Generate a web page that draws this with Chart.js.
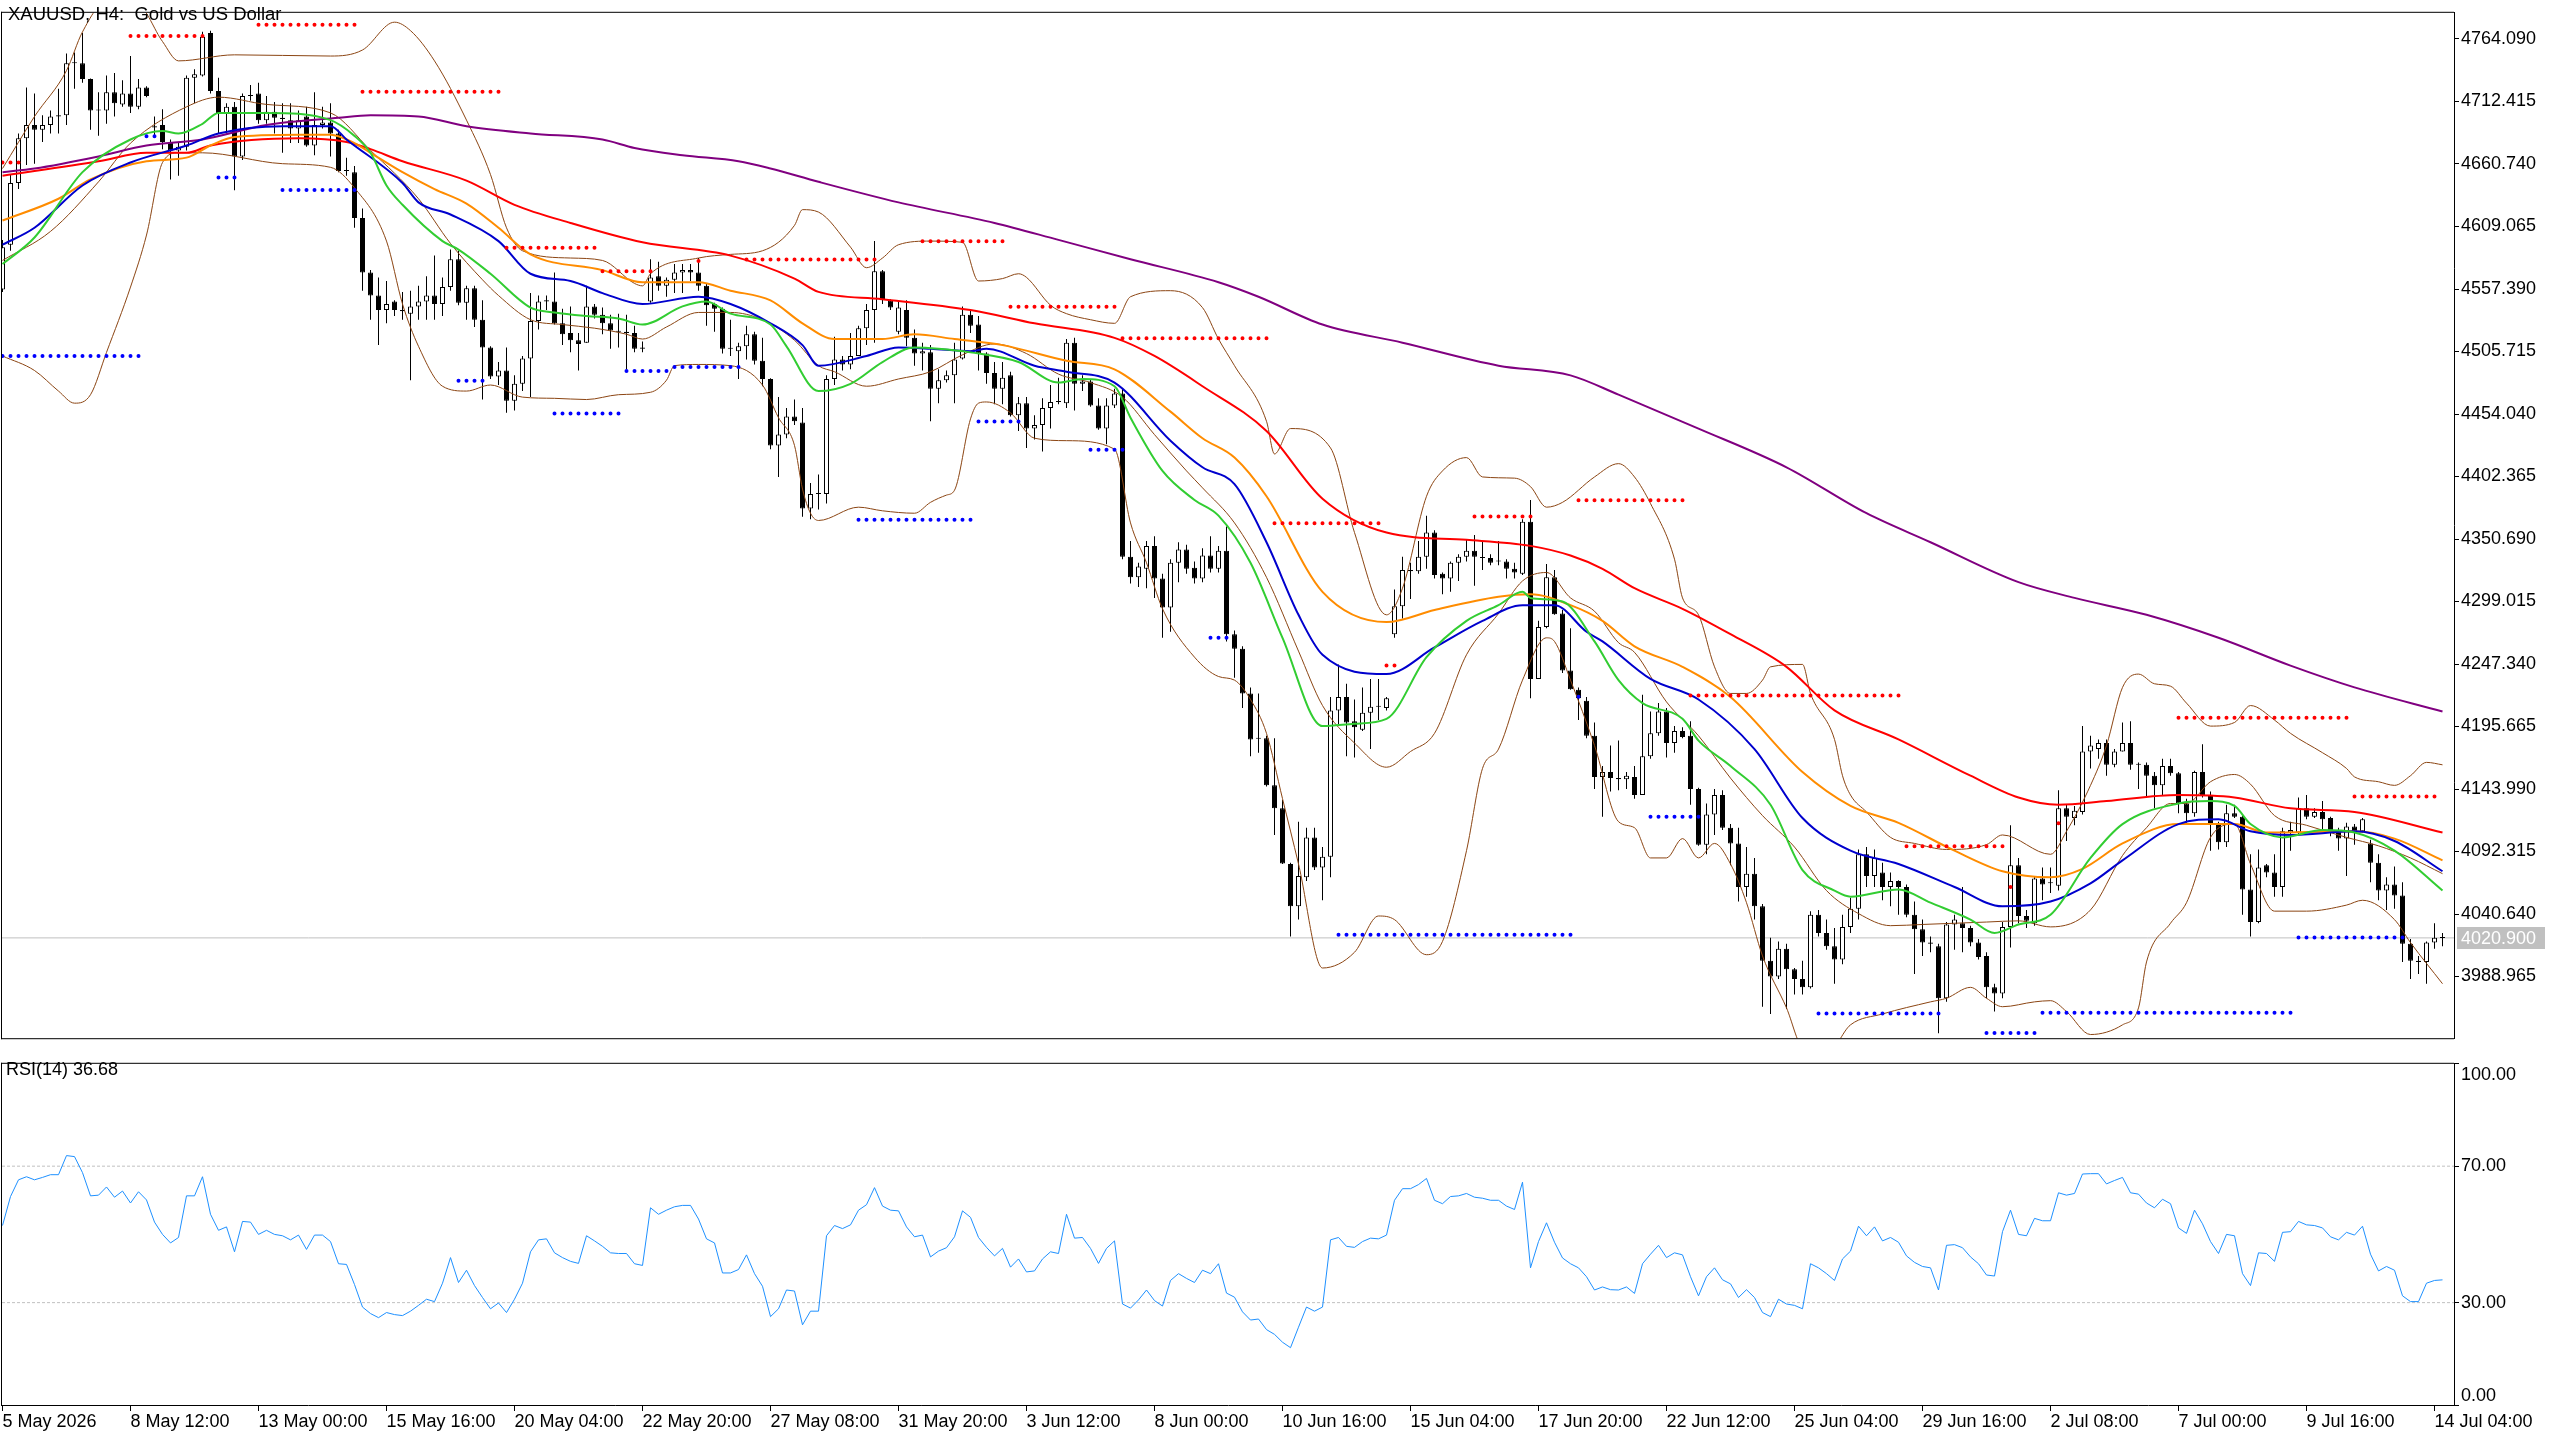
<!DOCTYPE html>
<html><head><meta charset="utf-8">
<script src="https://cdn.jsdelivr.net/npm/chart.js@4.4.1/dist/chart.umd.min.js"></script>
<style>
html,body{margin:0;padding:0;background:#fff;width:2560px;height:1440px;overflow:hidden;}
#main{position:absolute;left:0;top:0;}
#rsi{position:absolute;left:0;top:1051px;}
.lbl{position:absolute;font-family:'Liberation Sans',Arial,sans-serif;font-size:18px;color:#000;white-space:pre;line-height:20px;}
</style></head><body>
<canvas id="main" width="2560" height="1051"></canvas>
<canvas id="rsi" width="2560" height="389"></canvas>
<div class="lbl" style="left:8px;top:4px;font-size:18.5px">XAUUSD, H4:  Gold vs US Dollar</div>
<div class="lbl" style="left:6px;top:1059px">RSI(14) 36.68</div>
<script>
// ---------------- DATA ----------------
const xTickIdx = [0,16,32,48,64,80,96,112,128,144,160,176,192,208,224,240,256,272,288,304];
const xTickLabels = ["5 May 2026","8 May 12:00","13 May 00:00","15 May 16:00","20 May 04:00","22 May 20:00","27 May 08:00","31 May 20:00","3 Jun 12:00","8 Jun 00:00","10 Jun 16:00","15 Jun 04:00","17 Jun 20:00","22 Jun 12:00","25 Jun 04:00","29 Jun 16:00","2 Jul 08:00","7 Jul 00:00","9 Jul 16:00","14 Jul 04:00"];
const priceTickLabels = ["3988.965","4040.640","4092.315","4143.990","4195.665","4247.340","4299.015","4350.690","4402.365","4454.040","4505.715","4557.390","4609.065","4660.740","4712.415","4764.090"];
const rsiTickVals = [0,30,70,100];
const rsiTickLabels = ["0.00","30.00","70.00","100.00"];
const rsiLevels = [70,30];

const candleOpen = [
4557,4594,4645,4682,4693,4689,4693,4700,4701,4744,
4744,4731,4705,4705,4720,4710,4719,4708,4724,4692,
4693,4679,4672,4675,4732,4734,4769,4721,4703,4708,
4667,4717,4719,4697,4704,4699,4697,4690,4700,4676,
4693,4695,4686,4655,4654,4616,4571,4552,4540,4547,
4540,4537,4543,4547,4552,4545,4559,4582,4546,4558,
4532,4509,4485,4490,4465,4479,4500,4531,4547,4547,
4529,4521,4515,4513,4543,4536,4529,4522,4522,4521,
4508,4547,4568,4560,4565,4571,4573,4571,4560,4545,
4541,4508,4506,4510,4520,4498,4483,4428,4437,4452,
4447,4376,4388,4388,4483,4499,4495,4502,4525,4540,
4572,4548,4522,4540,4517,4504,4505,4475,4482,4486,
4500,4536,4528,4504,4488,4475,4486,4453,4463,4442,
4445,4459,4464,4463,4513,4479,4481,4461,4442,4461,
4471,4336,4319,4326,4345,4318,4294,4331,4342,4327,
4318,4337,4326,4341,4272,4260,4223,4186,4186,4147,
4128,4082,4047,4071,4104,4079,4088,4209,4220,4200,
4193,4207,4212,4211,4272,4295,4325,4324,4336,4356,
4322,4318,4331,4336,4341,4335,4335,4332,4332,4326,
4322,4365,4235,4278,4319,4289,4242,4226,4217,4188,
4154,4158,4153,4152,4154,4139,4171,4190,4208,4182,
4192,4188,4144,4098,4123,4139,4112,4099,4063,4074,
4047,4002,3989,4012,3995,3987,3980,4040,4025,4014,
4003,4030,4045,4090,4072,4075,4063,4068,4063,4040,
4028,4017,4014,3971,4032,4033,4029,4017,4006,3980,
3975,4030,4081,4039,4033,4070,4066,4064,4128,4120,
4125,4175,4177,4182,4164,4175,4182,4164,4164,4155,
4147,4163,4157,4132,4124,4158,4139,4115,4100,4124,
4121,4061,4034,4081,4075,4063,4108,4108,4128,4121,
4125,4120,4109,4103,4113,4109,4099,4083,4060,4065,
4056,4016,4002,4001,4017,4021];
const candleHigh = [
4598,4652,4686,4724,4719,4701,4705,4723,4752,4753,
4769,4731.5,4720,4734,4736,4730,4750,4731,4725,4700,
4706,4681,4678,4734,4739,4770,4771,4732,4711,4712,
4719,4726,4728,4717,4712,4711,4711,4705,4708,4720,
4708,4711,4689,4666,4659,4624,4573,4567,4564,4548,
4555,4556,4560,4568,4585,4567,4590,4589,4560,4560,
4548,4510,4497,4509,4486,4502,4554,4552,4552,4571,
4541,4543,4521,4560,4545,4542,4536,4537,4536,4527,
4514,4582,4580,4567,4578,4578,4578,4583,4562,4546,
4542,4532,4513,4527,4522,4517,4483.5,4468,4459,4466,
4459,4397,4404,4486,4518,4502,4521,4527,4545,4597,
4573,4549,4548,4548,4524,4513,4511,4491,4490,4513,
4543,4540,4535,4505,4497,4497,4489,4468,4468,4453,
4467,4478,4484,4516,4517,4486,4483,4467,4467,4475,
4475,4349,4331,4349,4353,4322,4334,4348,4346,4332,
4343,4353,4345,4361,4275,4262,4228,4223,4188,4186,
4135,4083,4117,4112,4112,4096,4220,4247,4231,4218,
4228,4235,4235,4220,4309,4336,4331,4349,4370,4358,
4323,4332,4338,4350,4354,4349,4338,4349,4334,4331,
4367,4383,4283,4330,4325,4292,4277,4228,4220,4199,
4163,4180,4184,4158,4163,4222,4208,4215,4211,4196,
4195,4200,4145,4132,4144,4143,4115,4112,4096,4087,
4049,4021,4018,4016,3996,4002,4043,4044,4036,4029,
4040,4054,4094,4096,4094,4083,4075,4068.5,4065,4051,
4036,4022,4016,4034,4040,4063,4031,4020,4009,3983,
4034,4114,4087,4044,4072,4079,4079,4143,4131,4130,
4196,4188,4185,4185,4177,4199,4200,4166,4166,4158,
4169,4169,4158,4136,4159,4181,4142,4117,4131,4131,
4123,4090,4094,4082,4090,4112,4117,4137,4139,4128,
4134,4121,4112,4116,4115,4120,4102,4090,4071,4080,
4067,4020,4006,4018,4033,4025];
const candleLow = [
4555,4589,4640,4660,4661,4679,4686,4686,4693,4723,
4728,4689,4684,4694,4700,4708,4703,4706,4716,4684,
4673,4648,4651,4672,4711,4733,4719,4686,4686,4639,
4664,4713,4694,4694,4686,4670,4678,4678,4675,4668,
4690,4667,4654,4651,4608,4556,4532,4511,4529,4535,
4532,4482,4532,4532,4532,4535,4556,4544,4532,4526,
4466,4483,4478,4455,4457,4473,4468,4524,4540,4528,
4511,4505,4490,4513,4533,4520,4508,4509,4491,4505,
4505,4546,4556,4551,4554,4554,4564,4556,4527,4522,
4504,4502,4483,4499,4495,4477,4425,4402,4434,4445,
4369,4367,4375,4380,4478,4490,4491,4502,4511,4513,
4545,4540,4520,4510,4494,4490,4448,4463,4480,4463,
4499,4521,4490,4479,4462,4462,4452,4440,4426,4433,
4423,4442,4462,4459,4457,4473,4460,4441,4429,4459,
4334,4314,4311,4310,4302,4269,4274,4315,4322,4314,
4315,4323,4323,4266,4236,4211,4171,4174,4146,4106,
4082,4022,4036,4068,4077,4052,4071,4196,4171,4170,
4192,4177,4201,4209,4269,4285,4301,4322,4326,4318,
4305,4307,4316,4332,4312,4325,4329,4329,4318,4318,
4321,4219,4235,4277,4288,4240,4226,4201,4186,4144,
4121,4142,4143,4144,4136,4139,4169,4188,4170,4174,
4186,4131,4097,4090,4106,4110,4081,4051,4055,4036,
3964,3958,3987,3962,3974,3974,3979,4022,4011,3983,
3999,4025,4036,4063,4063,4052,4047,4040,4038,3991,
4006,4009,3942,3968,4011,4009,4014,4003,3971,3960,
3971,4013,4033,4029,4031,4052,4058,4060,4101,4114,
4123,4161,4169,4155,4162,4175,4160,4144,4137,4128,
4139,4155,4124,4116,4121,4137,4093,4094,4096,4120,
4040,4022,4033,4071,4055,4055,4093,4106,4119,4120,
4110,4105,4093,4072,4098,4108,4067,4052,4044,4045,
4001,3987,3991,3983,4012,4014];
const candleClose = [
4592,4645,4682,4693,4689,4693,4700,4701,4744,4744.5,
4731,4705,4705.5,4720,4711,4719,4708,4724,4717,4691,
4679,4672,4675,4732,4735,4766,4721,4703,4708,4667,
4717,4717.5,4697,4704,4699,4698,4690,4697,4676,4693,
4695,4686,4655,4655.5,4616,4571,4552,4540,4545,4540,
4539,4543,4547,4552,4545,4559,4582,4546,4558,4532,
4509,4485,4490,4465,4479,4500,4531,4547,4548,4529,
4520,4515,4512,4543,4536,4529,4523,4522.5,4521,4508,
4509,4567,4560,4565,4571,4573,4571,4560,4544,4541,
4508,4508.5,4510,4520,4498,4483,4428,4437,4452,4448,
4376,4388,4388.5,4483,4499,4495,4502,4525,4540,4572,
4548,4542,4542,4517,4504,4506,4475,4482,4486,4499,
4536,4527,4504,4488,4475,4484,4453,4463,4442,4445,
4459,4464,4464.5,4513,4479,4481,4461,4442,4461,4471,
4336,4319,4328,4345,4318,4294,4331,4342,4326,4318,
4337,4326,4341,4272,4260,4223,4185,4185.5,4147,4128,
4082.5,4047,4072,4104,4079,4088,4209,4220,4199,4195,
4207,4212,4212.5,4219,4295,4325,4324,4336,4356,4321,
4318,4331,4336,4341,4336,4335.5,4331,4332.5,4326,4323,
4365,4235,4278,4319,4288.5,4242,4226.5,4219,4188,4154,
4158,4153,4152,4155,4139,4171,4190,4208,4182,4192,
4187,4144,4098,4123,4139,4112,4099,4063,4074,4047,
4002,3989,4012,3995,3987,3980,4040,4025,4014,4003,
4030,4045,4090,4072,4087,4063,4068,4063,4040,4028,
4017,4016,3971,4032,4036,4029,4017,4005,3980,3975,
4030,4081,4039,4035,4070,4065,4066.5,4128,4121,4126,
4175,4180,4182,4164,4175,4182,4164,4164.5,4155,4147,
4163,4157,4132,4124,4158,4139,4115,4100,4124,4121,
4061,4034,4079,4075,4063,4109,4110,4128,4121,4125,
4119,4109,4103,4113,4109,4119,4083,4060,4065,4056,
4016,4002,4001,4017,4021,4020.9];

// indicator lines: [candle index, value]
const maGreen = [[0,4578],[4,4600],[10,4654],[16,4681],[20,4688],[22,4686],[25,4694],[27,4703],[33,4703],[41,4697],[44,4684],[46,4670],[48,4643],[50,4627],[55,4597],[57,4590],[61,4570],[66,4542],[69,4538],[73,4535],[77,4533],[80,4528],[85,4543],[88,4547],[91,4537],[96,4528],[98,4510],[102,4473],[106,4479],[110,4497],[114,4509],[117,4508],[121,4505],[127,4497],[132,4480],[135,4483],[139,4477],[141,4451],[145,4407],[149,4383],[152,4370],[156,4331],[160,4269],[165,4196],[169,4198],[173,4202],[178,4253],[183,4283],[187,4296],[190,4307],[191,4302],[195,4299],[199,4266],[202,4234],[205,4215],[210,4202],[212,4184],[216,4163],[221,4131],[225,4077],[229,4060],[231,4055],[237,4061],[241,4050],[246,4036],[249,4025],[252,4032],[256,4040],[261,4087],[265,4115],[272,4132],[276,4134],[279,4130],[281,4115],[285,4104],[290,4110],[294,4108],[299,4093],[305,4060]];
const maBlue = [[0,4594],[4,4608],[10,4643],[16,4662],[23,4676],[27,4686],[35,4692],[41,4692],[43,4681],[50,4645],[52,4629],[56,4619],[62,4597],[66,4570],[71,4564],[75,4554],[80,4545],[87,4551],[91,4545],[96,4529],[100,4511],[102,4494],[108,4502],[112,4509],[116,4508],[121,4506],[123,4508],[129,4494],[133,4489],[139,4480],[146,4432],[150,4410],[154,4396],[158,4348],[162,4288],[165,4255],[173,4239],[179,4261],[185,4283],[190,4296],[194,4296],[198,4274],[200,4266],[206,4235],[212,4218],[219,4177],[225,4120],[231,4093],[237,4082],[244,4063],[250,4047],[256,4051],[261,4066],[265,4085],[272,4115],[277,4119],[281,4109],[286,4106],[294,4109],[299,4101],[305,4076]];
const maOrange = [[0,4614],[7,4632],[11,4648],[18,4663],[23,4666],[26,4676],[29,4683],[37,4685],[41,4685],[44,4678],[46,4670],[50,4654],[54,4640],[58,4628],[62,4608],[66,4586],[75,4573],[80,4563],[87,4563],[91,4556],[96,4548],[100,4529],[104,4516],[110,4516],[114,4520],[119,4516],[125,4511],[133,4498],[139,4491],[146,4456],[150,4434],[154,4418],[158,4386],[165,4307],[173,4282],[179,4292],[187,4303],[191,4305],[196,4296],[200,4283],[204,4262],[210,4245],[216,4220],[225,4158],[231,4130],[237,4116],[244,4093],[250,4076],[256,4071],[260,4078],[265,4099],[272,4115],[279,4115],[283,4108],[294,4109],[299,4103],[305,4085]];
const maRed = [[0,4651],[12,4663],[18,4670],[23,4670],[26,4676],[37,4682],[43,4679],[46,4673],[50,4663],[58,4647],[64,4627],[71,4612],[80,4596],[91,4585],[99,4566],[102,4555],[110,4549],[121,4540],[129,4529],[139,4517],[144,4502],[150,4477],[158,4440],[165,4384],[173,4356],[183,4350],[191,4345],[196,4337],[200,4326],[204,4310],[210,4293],[216,4272],[223,4245],[229,4209],[237,4185],[246,4155],[252,4137],[257,4131],[263,4134],[272,4139],[279,4137],[286,4128],[294,4125],[305,4108]];
const maPurple = [[0,4654],[4,4657],[12,4667],[18,4676],[25,4681],[33,4693],[42,4699],[46,4701],[52,4700],[58,4692],[66,4686],[75,4681],[79,4674],[85,4668],[92,4663],[96,4657],[102,4646],[112,4629],[124,4612],[132,4598],[141,4582],[152,4563],[157,4551],[165,4528],[175,4513],[187,4494],[196,4486],[202,4470],[212,4442],[223,4410],[233,4372],[241,4348],[252,4315],[259,4302],[268,4288],[277,4269],[286,4246],[294,4228],[305,4208]];
const bbUpper = [[0,4657],[4,4700],[8,4738],[10,4770],[13,4795],[17,4792],[20,4762],[22,4746],[29,4751],[41,4750],[45,4755],[49,4778],[51,4771],[54,4746],[58,4697],[61,4652],[63,4608],[65,4589],[71,4583],[75,4581],[79,4562],[80,4560],[81,4570],[87,4583],[91,4586],[95,4589],[99,4610],[100,4623],[102,4621],[106,4592],[108,4575],[110,4583],[112,4594],[116,4597],[120,4596],[122,4564],[125,4566],[127,4570],[128,4567],[131,4544],[133,4537],[136,4532],[139,4529],[141,4551],[146,4556],[150,4542],[152,4516],[154,4494],[158,4448],[159,4421],[161,4442],[166,4426],[169,4356],[173,4288],[175,4310],[178,4386],[180,4407],[183,4418],[185,4402],[189,4401],[191,4394],[193,4377],[195,4381],[199,4402],[202,4413],[204,4402],[206,4380],[209,4334],[210,4302],[212,4288],[214,4245],[216,4223],[218,4223],[220,4234],[221,4245],[225,4247],[226,4223],[229,4185],[230,4155],[231,4139],[233,4125],[236,4104],[239,4099],[243,4094],[248,4098],[250,4106],[256,4090],[258,4109],[261,4147],[263,4180],[265,4228],[267,4239],[269,4231],[271,4229],[273,4215],[276,4196],[279,4199],[281,4213],[284,4201],[286,4190],[290,4174],[293,4161],[294,4154],[297,4150],[299,4147],[301,4155],[303,4166],[305,4164]];
const bbMiddle = [[0,4581],[6,4605],[12,4646],[16,4678],[23,4708],[27,4716],[33,4710],[41,4703],[46,4672],[52,4632],[56,4595],[60,4565],[62,4552],[66,4532],[70,4528],[74,4525],[78,4520],[80,4516],[83,4526],[87,4538],[91,4538],[95,4532],[99,4515],[102,4494],[104,4489],[108,4477],[112,4483],[116,4489],[120,4503],[124,4512],[128,4504],[132,4487],[136,4480],[140,4468],[144,4437],[148,4407],[150,4393],[154,4364],[158,4319],[162,4258],[165,4213],[169,4182],[173,4162],[176,4175],[179,4190],[183,4255],[187,4289],[190,4316],[193,4323],[196,4302],[199,4291],[202,4265],[204,4257],[208,4216],[212,4188],[216,4153],[220,4122],[224,4096],[228,4060],[232,4041],[236,4031],[240,4032],[244,4033],[248,4034],[252,4035],[256,4030],[261,4044],[265,4089],[268,4112],[271,4132],[273,4132],[276,4150],[279,4156],[281,4148],[284,4122],[288,4114],[293,4104],[297,4097],[301,4087],[305,4074]];
const bbLower = [[0,4502],[4,4490],[7,4473],[9,4463],[11,4470],[13,4505],[16,4559],[18,4602],[20,4662],[22,4670],[25,4670],[35,4661],[41,4658],[44,4641],[48,4597],[50,4545],[52,4510],[55,4477],[58,4473],[61,4478],[65,4468],[69,4467],[73,4466],[77,4470],[81,4472],[83,4482],[84,4494],[87,4495],[91,4494],[95,4478],[97,4451],[99,4428],[100,4392],[101,4372],[102,4366],[107,4377],[110,4374],[114,4372],[116,4381],[118,4387],[119,4391],[121,4450],[122,4463],[123,4464],[126,4455],[129,4434],[133,4432],[139,4425],[141,4364],[143,4331],[145,4293],[149,4253],[152,4237],[154,4234],[156,4218],[158,4190],[160,4136],[162,4082],[165,3996],[169,4009],[172,4039],[174,4036],[178,4007],[180,4018],[183,4093],[185,4161],[187,4177],[190,4234],[193,4269],[194,4266],[196,4234],[199,4180],[202,4117],[204,4112],[206,4087],[208,4087],[210,4103],[212,4087],[214,4099],[216,4082],[218,4050],[220,4006],[223,3963],[225,3930],[228,3925],[231,3949],[235,3958],[241,3968],[243,3971],[246,3980],[248,3971],[250,3964],[254,3968],[256,3969],[258,3960],[261,3941],[265,3949],[267,3963],[268,4001],[271,4033],[273,4050],[276,4104],[279,4115],[281,4082],[284,4043],[288,4043],[293,4048],[295,4052],[299,4036],[301,4017],[305,3983]];

// fractal levels: [first index, last index, price]
const redLevels = [[0,2,4662],[16,25,4766.5],[32,44,4775.8],[45,62,4720.5],[63,74,4591.5],[75,81,4572],[87,87,4580.6],[93,109,4581.7],[115,125,4596.9],[126,139,4542.7],[140,158,4516.7],[159,172,4363.8],[173,174,4246.2],[184,191,4369.3],[197,210,4382.8],[211,237,4221.3],[238,250,4096.6],[251,251,4063],[257,257,4115.6],[272,293,4202.9],[294,304,4137.8]];
const blueLevels = [[0,17,4502],[18,19,4683.6],[27,29,4649.5],[35,44,4639.2],[57,60,4481.5],[69,77,4454.4],[78,83,4489.6],[84,92,4492.8],[107,121,4366.6],[122,127,4447.9],[136,140,4424.5],[151,153,4269],[167,196,4023.5],[197,197,4220.2],[206,212,4121],[227,242,3958.4],[248,254,3942.2],[255,286,3959],[287,300,4021.3]];

const rsiValues = [52.6,61.1,66,66.9,66,66.7,67.5,67.5,73.1,72.8,
68.1,61.3,61.5,63.9,60.9,62.7,59.2,62.5,60.1,53.6,
50,47.5,49.1,61.3,61.3,66.9,55.9,51.2,52.2,44.9,
53.8,53.6,50,51.2,50,49.6,48.4,49.8,45.6,49.8,
49.8,47.9,41.4,41.2,35.3,28.7,26.8,25.6,27.1,26.5,
26.2,27.5,29.2,31,30.3,35.7,43.2,35.9,39.5,35,
31.5,28.2,29.9,27.1,31,35.7,44.9,48.4,48.7,44.6,
43.2,42.1,41.5,49.6,48.1,46.5,44.6,44.4,44.4,41.4,
40.9,57.8,55.9,57.1,58.1,58.5,58.5,54.5,48.7,47.5,
38.7,38.7,39.7,44,38.5,34.8,25.9,28.2,33.7,33.4,
23.5,27.5,27.5,49.6,52.6,51.7,52.8,57.1,58.7,63.7,
58.3,57.1,56.9,52.2,49.3,49.8,43.4,45.1,46.1,49.3,
56.9,55,49.1,46.2,43.7,45.9,40.4,42.8,39,39.3,
42.8,44.9,44.4,55.9,48.9,49.1,45.9,41.5,45.9,48.1,
29.6,28.4,30.8,33.7,30.6,29,36.5,38.5,37.1,35.9,
39.5,38.5,41.4,32.8,31.6,27.3,24.9,25.2,22.1,20.7,
18.4,16.8,22.8,28.7,27.5,28.7,48.4,49.1,46.5,46.2,
47.9,48.9,48.7,49.8,60,63.4,63.4,64.6,66.4,60,
59,61.1,61.3,62,60.9,60.6,60,60,58.3,57.3,
65.3,40.2,47.9,53.4,47.7,43.1,41.4,40.2,37.6,33.7,
34.6,33.8,33.7,34.6,32.7,41.4,44.2,46.8,43.2,44.6,
44,37.6,32,37.6,40.2,36.7,35.5,31.5,33.8,31.5,
27.1,25.9,31,29.6,29.2,28.2,41.4,40.2,38.5,36.5,
42.8,45.1,52.4,49.6,52.2,48.1,49.1,47.7,43.7,41.8,
40.6,40.2,33.7,46.8,47,46.1,43.4,41.4,38.1,37.8,
50.8,57.1,50,49.6,54.7,54,54,62.2,61.5,62,
67.7,67.8,67.8,64.8,65.8,66.7,62.2,61.8,59.2,57.8,
60.3,59,51.9,50.3,57.1,53.1,47.9,44.4,50,49.6,
38.5,35,44.6,44.4,42.1,50.6,50.8,53.8,52.8,52.6,
51.9,49.3,48.4,50.6,49.8,52.4,44.2,39.3,40.6,39.5,
32,30.3,30.3,35.7,36.5,36.68];

// ---------------- CHART ----------------
const FONT = "'Liberation Sans', Arial, sans-serif";
Chart.defaults.font.family = FONT;
Chart.defaults.font.size = 18;
Chart.defaults.color = '#000';
Chart.defaults.animation = false;

const xMin = -0.0625, xMax = 306.4375;
const priceMin = 3937.96, priceMax = 4785.75;
const lastPrice = candleClose[candleClose.length - 1];
const BB_COLOR = '#8B4513';

const frame = {
  id: 'frame',
  afterDraw(chart, args, opts) {
    const {ctx, chartArea: a} = chart;
    ctx.save();
    ctx.fillStyle = '#000';
    ctx.fillRect(a.left - 1, a.top - 1, a.right - a.left + 1, 1);
    ctx.fillRect(a.left - 1, a.top - 1, 1, a.bottom - a.top + 2);
    if (opts.bottom) ctx.fillRect(a.left - 1, a.bottom, a.right - a.left + 1, 1);
    ctx.restore();
  }
};
const lastLabel = {
  id: 'lastLabel',
  afterDraw(chart) {
    const {ctx, chartArea: a} = chart;
    const y = chart.scales.y.getPixelForValue(lastPrice);
    ctx.save();
    ctx.fillStyle = '#C0C0C0';
    ctx.fillRect(a.right + 3, Math.round(y) - 11, 88, 22);
    ctx.fillStyle = '#fff';
    ctx.font = '18px ' + FONT;
    ctx.textBaseline = 'middle';
    ctx.textAlign = 'left';
    ctx.fillText(lastPrice.toFixed(3), a.right + 7, y + 1);
    ctx.restore();
  }
};
const rsiEdgeLabels = {
  id: 'rsiEdge',
  afterDraw(chart) {
    const {ctx, chartArea: a} = chart;
    ctx.save();
    ctx.fillStyle = '#000';
    ctx.font = '18px ' + FONT;
    ctx.textAlign = 'left';
    ctx.textBaseline = 'middle';
    ctx.fillText(rsiTickLabels[3], a.right + 7, a.top + 11);
    ctx.fillText(rsiTickLabels[0], a.right + 7, a.bottom - 9);
    ctx.restore();
  }
};

function lineDs(pairs, color, width, order) {
  return {type: 'line', data: pairs.map(p => ({x: p[0], y: p[1]})), borderColor: color, borderWidth: width,
    pointRadius: 0, pointHoverRadius: 0, fill: false, cubicInterpolationMode: 'monotone', order: order, clip: 0};
}
function levelDs(segs, color) {
  const pts = [];
  segs.forEach(s => { pts.push({x: s[0], y: s[2]}); pts.push({x: s[1] + 0.05, y: s[2]}); pts.push({x: s[1] + 0.1, y: null}); });
  return {type: 'line', data: pts, borderColor: color, borderWidth: 4, borderDash: [0, 8], borderCapStyle: 'round',
    pointRadius: 0, pointHoverRadius: 0, tension: 0, spanGaps: false, fill: false, order: 0, clip: 0};
}

const wickData = candleHigh.map((h, i) => ({x: i, y: [candleLow[i], h]}));
const bodyData = candleOpen.map((o, i) => ({x: i, y: [Math.min(o, candleClose[i]), Math.max(o, candleClose[i])]}));
const bodyColors = candleOpen.map((o, i) => candleClose[i] >= o ? '#FFFFFF' : '#000000');

new Chart(document.getElementById('main'), {
  type: 'bar',
  data: {
    datasets: [
      {type: 'line', data: [{x: xMin, y: lastPrice}, {x: xMax, y: lastPrice}], borderColor: '#C0C0C0', borderWidth: 1, pointRadius: 0, order: 20, clip: 0},
      {type: 'bar', data: wickData, backgroundColor: '#000', borderWidth: 0, barThickness: 1, maxBarThickness: 1, grouped: false, inflateAmount: 0, order: 11, clip: 0},
      {type: 'bar', data: bodyData, backgroundColor: bodyColors, borderColor: '#000', borderWidth: 1, borderSkipped: false,
        barThickness: 5, maxBarThickness: 5, minBarLength: 1, grouped: false, inflateAmount: 0, order: 10, clip: 0},
      lineDs(bbUpper, BB_COLOR, 1, 6),
      lineDs(bbMiddle, BB_COLOR, 1, 6),
      lineDs(bbLower, BB_COLOR, 1, 6),
      lineDs(maPurple, '#800080', 2, 5),
      lineDs(maRed, '#FF0000', 2, 4),
      lineDs(maOrange, '#FF8C00', 2, 3),
      lineDs(maBlue, '#0000CD', 2, 2),
      lineDs(maGreen, '#32CD32', 2, 1),
      levelDs(redLevels, '#FF0000'),
      levelDs(blueLevels, '#0000FF')
    ]
  },
  options: {
    responsive: false, devicePixelRatio: 1, animation: false, events: [],
    layout: {padding: {left: 2, top: 1, right: 0, bottom: 1}},
    plugins: {legend: {display: false}, tooltip: {enabled: false}, frame: {bottom: true}},
    scales: {
      x: {type: 'linear', position: 'bottom', min: xMin, max: xMax, offset: false, display: true,
        afterBuildTicks: s => { s.ticks = xTickIdx.map(v => ({value: v})); },
        afterFit: s => { s.height = 0; s.paddingLeft = 0; s.paddingRight = 0; },
        ticks: {display: false},
        grid: {display: false, offset: false},
        border: {display: false}},
      y: {type: 'linear', position: 'right', min: priceMin, max: priceMax,
        afterBuildTicks: s => { s.ticks = priceTickLabels.map(t => ({value: parseFloat(t)})); },
        afterFit: s => { s.width = 106; },
        ticks: {autoSkip: false, padding: 2, color: '#000', font: {size: 18, family: FONT}, callback: (v, i) => priceTickLabels[i]},
        grid: {display: true, drawOnChartArea: false, drawTicks: true, tickLength: 5, tickColor: '#000'},
        border: {display: true, color: '#000', width: 1}}
    }
  },
  plugins: [frame, lastLabel]
});

new Chart(document.getElementById('rsi'), {
  type: 'line',
  data: {
    datasets: [
      ...rsiLevels.map(lv => ({data: [{x: xMin, y: lv}, {x: xMax, y: lv}], borderColor: '#C0C0C0', borderWidth: 1, borderDash: [3, 2], pointRadius: 0, order: 5, clip: 0})),
      {data: rsiValues.map((v, i) => ({x: i, y: v})), borderColor: '#1E90FF', borderWidth: 1, pointRadius: 0, tension: 0, order: 1, clip: 0}
    ]
  },
  options: {
    responsive: false, devicePixelRatio: 1, animation: false, events: [],
    layout: {padding: {left: 2, top: 2, right: 0, bottom: 0}},
    plugins: {legend: {display: false}, tooltip: {enabled: false}, frame: {bottom: false}},
    scales: {
      x: {type: 'linear', position: 'bottom', min: xMin, max: xMax,
        afterBuildTicks: s => { s.ticks = xTickIdx.map(v => ({value: v})); },
        afterFit: s => { s.height = 35; },
        ticks: {autoSkip: false, maxRotation: 0, minRotation: 0, align: 'start', padding: 0, color: '#000', font: {size: 18, family: FONT},
          callback: (v, i) => xTickLabels[i]},
        grid: {display: true, drawOnChartArea: false, drawTicks: true, tickLength: 6, tickColor: '#000'},
        border: {display: true, color: '#000', width: 1}},
      y: {type: 'linear', position: 'right', min: 0, max: 100,
        afterBuildTicks: s => { s.ticks = rsiTickVals.map(v => ({value: v})); },
        afterFit: s => { s.width = 106; },
        ticks: {autoSkip: false, padding: 2, color: '#000', font: {size: 18, family: FONT},
          callback: (v, i) => (i === 0 || i === rsiTickVals.length - 1) ? '' : rsiTickLabels[i]},
        grid: {display: true, drawOnChartArea: false, drawTicks: true, tickLength: 5, tickColor: '#000'},
        border: {display: true, color: '#000', width: 1}}
    }
  },
  plugins: [frame, rsiEdgeLabels]
});
</script>
</body></html>
